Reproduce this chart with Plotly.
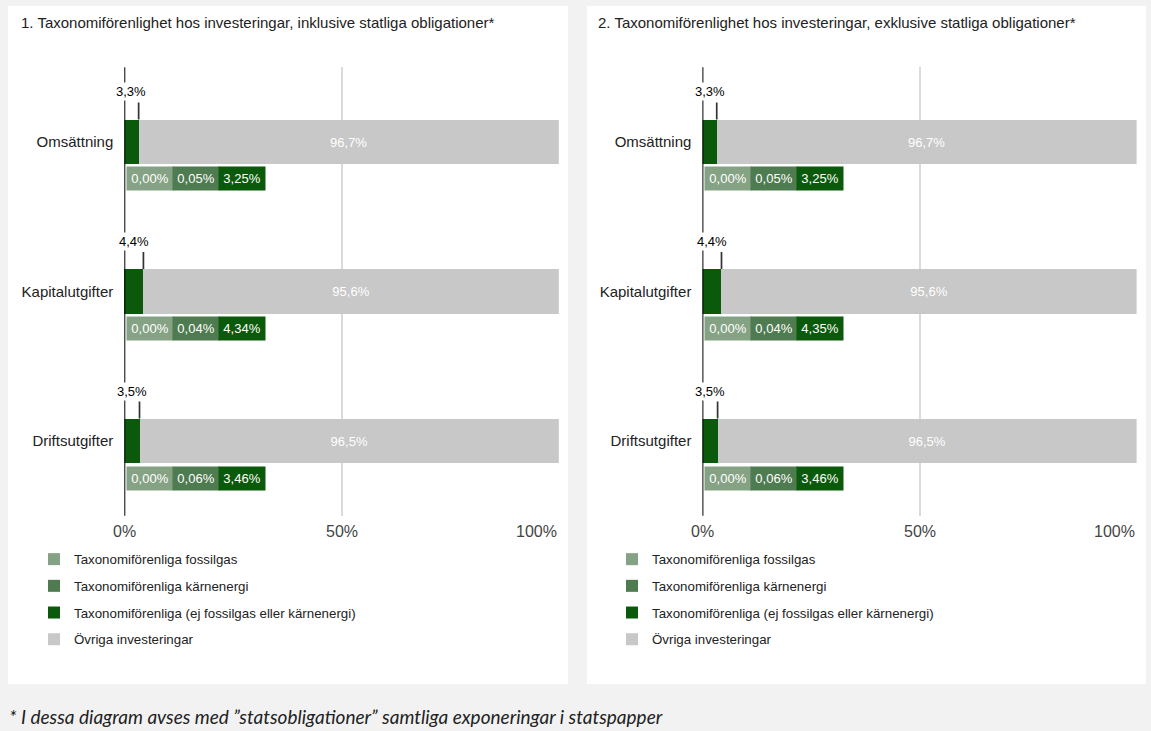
"""Taxonomiförenlighet – two horizontal stacked bar panels."""
import plotly.graph_objects as go

W, H = 1151, 731

CATEGORIES = ["Omsättning", "Kapitalutgifter", "Driftsutgifter"]

# panel 1: inklusive statliga obligationer
P1_FOSSIL = [0.00, 0.00, 0.00]
P1_NUCLEAR = [0.05, 0.04, 0.06]
P1_ALIGNED = [3.25, 4.34, 3.46]
P1_TOTAL = [3.3, 4.4, 3.5]
P1_OTHER = [96.7, 95.6, 96.5]

# panel 2: exklusive statliga obligationer
P2_FOSSIL = [0.00, 0.00, 0.00]
P2_NUCLEAR = [0.05, 0.04, 0.06]
P2_ALIGNED = [3.25, 4.35, 3.46]
P2_TOTAL = [3.3, 4.4, 3.5]
P2_OTHER = [96.7, 95.6, 96.5]

X_TICKS = [0, 50, 100]
X_TICKTEXT = ["0%", "50%", "100%"]

TITLES = [
    "1. Taxonomiförenlighet hos investeringar, inklusive statliga obligationer*",
    "2. Taxonomiförenlighet hos investeringar, exklusive statliga obligationer*",
]
SERIES_NAMES = [
    "Taxonomiförenliga fossilgas",
    "Taxonomiförenliga kärnenergi",
    "Taxonomiförenliga (ej fossilgas eller kärnenergi)",
    "Övriga investeringar",
]
FOOTNOTE = "* I dessa diagram avses med \u201dstatsobligationer\u201d samtliga exponeringar i statspapper"

FOSSIL = "#85a384"
NUCLEAR = "#4f7b50"
ALIGNED = "#0b5a0b"
OTHER = "#c8c8c8"
GRID = "#dadada"
INK = "#222222"
FONT = "Liberation Sans, Arial, sans-serif"


def pct(v, d=1):
    return f"{v:.{d}f}".replace(".", ",") + "%"


def px_x(p):
    return p / W


def px_y(p):
    return 1 - p / H


panels = [
    dict(fossil=P1_FOSSIL, nuclear=P1_NUCLEAR, aligned=P1_ALIGNED, total=P1_TOTAL, other=P1_OTHER,
         xa="x", ya="y", dom=(124.3, 558.8), box=(8, 568), title_x=19, legend="legend", leg_x=34),
    dict(fossil=P2_FOSSIL, nuclear=P2_NUCLEAR, aligned=P2_ALIGNED, total=P2_TOTAL, other=P2_OTHER,
         xa="x2", ya="y2", dom=(702.4, 1136.6), box=(587, 1146), title_x=596, legend="legend2", leg_x=612),
]

fig = go.Figure()
shapes, annos = [], []

for k, p in enumerate(panels):
    series = [(p["fossil"], FOSSIL), (p["nuclear"], NUCLEAR), (p["aligned"], ALIGNED), (p["other"], OTHER)]
    for j, ((vals, col), name) in enumerate(zip(series, SERIES_NAMES)):
        is_other = j == 3
        fig.add_bar(
            y=CATEGORIES, x=vals, orientation="h", name=name,
            marker=dict(color=col, line=dict(width=0)), width=0.3,
            xaxis=p["xa"], yaxis=p["ya"], legend=p["legend"], legendgroup=f"p{k}_{j}",
            text=[pct(v) for v in vals] if is_other else None,
            textposition="inside" if is_other else "none",
            insidetextanchor="middle",
            textfont=dict(color="white", size=13, family=FONT),
            hovertemplate="%{y}: %{x:.2f}%<extra>" + name + "</extra>",
        )

    xref, yref = p["xa"], p["ya"]

    # white card behind each panel
    shapes.append(dict(type="rect", xref="paper", yref="paper", layer="below",
                       x0=px_x(p["box"][0]), x1=px_x(p["box"][1]), y0=px_y(684), y1=px_y(6),
                       fillcolor="white", line=dict(width=0)))
    # zero line on top of bars
    shapes.append(dict(type="line", xref=xref, yref=f"{yref} domain", x0=0, x1=0, y0=0, y1=1,
                       line=dict(color="black", width=2)))

    for i, cat in enumerate(CATEGORIES):
        tot = p["total"][i]
        # small tick marking the end of the aligned share
        shapes.append(dict(type="line", xref=xref, yref=yref, x0=tot, x1=tot,
                           y0=i - 0.265, y1=i - 0.15, line=dict(color="#333", width=1.7)))
        annos.append(dict(xref=xref, yref=yref, x=tot / 2, y=cat, yshift=50, text=pct(tot),
                          showarrow=False, bgcolor="white", borderpad=1,
                          font=dict(size=13, color="black", family=FONT)))
        # breakdown boxes under each bar
        for j, (vals, col) in enumerate([(p["fossil"], FOSSIL), (p["nuclear"], NUCLEAR), (p["aligned"], ALIGNED)]):
            annos.append(dict(xref=xref, yref=yref, x=0, y=cat, xanchor="left", xshift=1.5 + 46 * j,
                              yshift=-37, width=46, height=23, borderpad=0, bgcolor=col,
                              text=pct(vals[i], 2), showarrow=False, align="center",
                              font=dict(size=13, color="white", family=FONT)))

    for v, t in zip(X_TICKS, X_TICKTEXT):
        annos.append(dict(xref=xref, yref="paper", x=v, y=px_y(531), text=t, showarrow=False,
                          xanchor="right" if v == 100 else "center", yanchor="middle",
                          font=dict(size=16, color="#444", family=FONT)))

    annos.append(dict(xref="paper", yref="paper", x=px_x(p["title_x"]), y=px_y(22), text=TITLES[k],
                      xanchor="left", yanchor="middle", showarrow=False,
                      font=dict(size=15, color=INK, family=FONT)))

annos.append(dict(xref="paper", yref="paper", x=px_x(7), y=px_y(716), text=FOOTNOTE,
                  xanchor="left", yanchor="middle", showarrow=False,
                  font=dict(size=19, color=INK, family="Lato", style="italic")))

ydom = [px_y(515.75), px_y(67.25)]
xcommon = dict(range=[0, 100], tickvals=X_TICKS, showticklabels=False, showgrid=True,
               gridcolor=GRID, gridwidth=2, zeroline=False, fixedrange=True)
ycommon = dict(type="category", categoryorder="array", categoryarray=CATEGORIES,
               range=[2.5, -0.5], domain=ydom, showgrid=False, zeroline=False,
               ticks="", ticklabelstandoff=10, fixedrange=True,
               tickfont=dict(size=15, color=INK, family=FONT))
legcommon = dict(orientation="v", yanchor="top", y=px_y(544), xanchor="left",
                 traceorder="grouped", tracegroupgap=6.4, bgcolor="rgba(0,0,0,0)",
                 font=dict(size=13.3, color=INK, family=FONT))

fig.update_layout(
    width=W, height=H, margin=dict(l=0, r=0, t=0, b=0),
    paper_bgcolor="#f2f2f2", plot_bgcolor="rgba(0,0,0,0)",
    barmode="stack", showlegend=True,
    xaxis=dict(domain=[px_x(panels[0]["dom"][0]), px_x(panels[0]["dom"][1])], anchor="y", **xcommon),
    xaxis2=dict(domain=[px_x(panels[1]["dom"][0]), px_x(panels[1]["dom"][1])], anchor="y2", **xcommon),
    yaxis=dict(anchor="x", **ycommon),
    yaxis2=dict(anchor="x2", **ycommon),
    legend=dict(x=px_x(panels[0]["leg_x"]), **legcommon),
    legend2=dict(x=px_x(panels[1]["leg_x"]), **legcommon),
    shapes=shapes, annotations=annos,
    uniformtext=dict(mode="show", minsize=13),
)

fig.write_html("out.html", config={"displayModeBar": False},
               post_script="document.body.style.margin='0';")
